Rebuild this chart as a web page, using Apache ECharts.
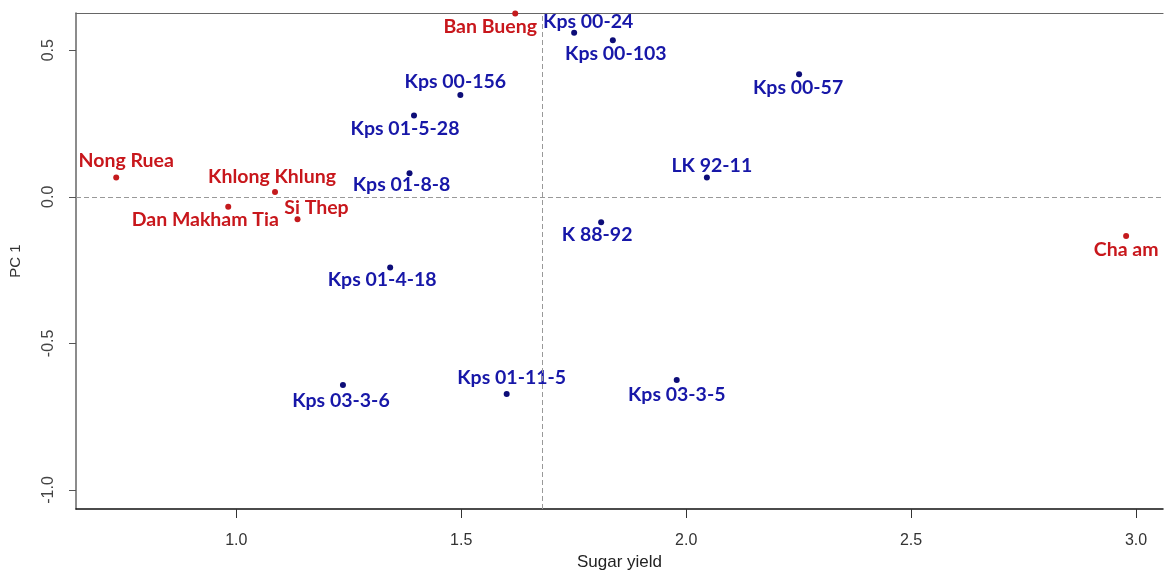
<!DOCTYPE html>
<html>
<head>
<meta charset="utf-8">
<script src="https://cdn.jsdelivr.net/npm/echarts@6/dist/echarts.min.js"></script>
<style>
  html, body { margin: 0; padding: 0; background: #fff; }
  #chart { width: 1165px; height: 575px; }
</style>
</head>
<body>
<div id="chart"></div>
<script>
// Check varieties (red) and candidate clones (blue): sugar yield vs. PC 1
const varietyNames = ['Nong Ruea', 'Khlong Khlung', 'Dan Makham Tia', 'Si Thep', 'Ban Bueng', 'Cha am'];
const varietyYield = [0.733, 1.086, 0.982, 1.136, 1.62, 2.978];
const varietyPC1   = [0.066, 0.016, -0.034, -0.077, 0.625, -0.134];

const cloneNames = ['Kps 00-24', 'Kps 00-103', 'Kps 00-57', 'Kps 00-156', 'Kps 01-5-28', 'Kps 01-8-8',
                    'LK 92-11', 'K 88-92', 'Kps 01-4-18', 'Kps 03-3-6', 'Kps 01-11-5', 'Kps 03-3-5'];
const cloneYield = [1.751, 1.837, 2.251, 1.498, 1.395, 1.385, 2.046, 1.811, 1.342, 1.237, 1.601, 1.979];
const clonePC1   = [0.560, 0.534, 0.418, 0.347, 0.277, 0.080, 0.066, -0.087, -0.241, -0.642, -0.673, -0.625];

const xTicks = [1.0, 1.5, 2.0, 2.5, 3.0];
const yTicks = [-1.0, -0.5, 0.0, 0.5];
const yieldMean = 1.679;
const pc1Ref = 0.0;

// label placement relative to each point (pixels)
const varietyLabelOffsets = [[10, -17], [-3, -15], [-23, 13], [19, -12], [-25, 13], [0, 14]];
const cloneLabelOffsets = [[14, -11], [3, 13], [-1, 13], [-5, -13], [-9, 13], [-8, 11],
                           [5, -12], [-4, 12], [-8, 12], [-2, 16], [5, -16], [0, 15]];

const RED = '#c8171c';
const BLUE = '#1717a8';

function buildData(names, xs, ys, offsets) {
  return names.map((n, i) => ({
    name: n,
    value: [xs[i], ys[i]],
    label: { offset: offsets[i] }
  }));
}

const labelBase = {
  show: true,
  position: 'inside',
  align: 'center',
  verticalAlign: 'middle',
  fontFamily: 'Lato',
  fontWeight: 'bold',
  fontSize: 19.5,
  textBorderWidth: 0,
  opacity: 1,
  formatter: p => p.name
};

const chart = echarts.init(document.getElementById('chart'), null, { renderer: 'canvas' });
chart.setOption({
  animation: false,
  backgroundColor: '#ffffff',
  grid: { left: 76, right: 2, top: 13, bottom: 66, containLabel: false, outerBoundsMode: 'none' },
  xAxis: [{
    type: 'value',
    min: 0.6436,
    max: 3.06,
    name: 'Sugar yield',
    nameLocation: 'middle',
    nameGap: 42,
    nameTextStyle: { fontFamily: 'Liberation Sans', fontSize: 17, color: '#222' },
    axisLine: { show: true, onZero: false, lineStyle: { color: '#111', width: 1.5 } },
    axisTick: { show: true, length: 9, customValues: xTicks, lineStyle: { color: '#333' } },
    axisLabel: {
      customValues: xTicks, margin: 24, color: '#333',
      fontFamily: 'Liberation Sans', fontSize: 16,
      formatter: v => v.toFixed(1)
    },
    splitLine: { show: false }
  }, {
    type: 'value',
    position: 'top',
    min: 0.6436,
    max: 3.06,
    axisLine: { show: true, onZero: false, lineStyle: { color: '#666', width: 1.2 } },
    axisTick: { show: false },
    axisLabel: { show: false },
    splitLine: { show: false }
  }],
  yAxis: {
    type: 'value',
    min: -1.065,
    max: 0.627,
    name: 'PC 1',
    nameLocation: 'middle',
    nameGap: 53,
    nameTextStyle: { fontFamily: 'Liberation Sans', fontSize: 15, color: '#333' },
    axisLine: { show: true, onZero: false, lineStyle: { color: '#666', width: 1.5 } },
    axisTick: { show: true, length: 7, customValues: yTicks, lineStyle: { color: '#555' } },
    axisLabel: {
      customValues: yTicks, rotate: 90, margin: 19, color: '#444',
      fontFamily: 'Liberation Sans', fontSize: 16,
      formatter: v => v.toFixed(1)
    },
    splitLine: { show: false }
  },
  series: [{
    name: 'Reference lines',
    type: 'scatter',
    data: [],
    silent: true,
    markLine: {
      silent: true,
      symbol: ['none', 'none'],
      label: { show: false },
      lineStyle: { color: '#999', type: [5, 3], width: 1, opacity: 1 },
      data: [{ yAxis: pc1Ref }, { xAxis: yieldMean }]
    }
  }, {
    name: 'Varieties',
    type: 'scatter',
    symbolSize: 6,
    itemStyle: { color: '#c41a1d', opacity: 1 },
    label: Object.assign({}, labelBase, { color: RED }),
    data: buildData(varietyNames, varietyYield, varietyPC1, varietyLabelOffsets),
    z: 3
  }, {
    name: 'Clones',
    type: 'scatter',
    symbolSize: 6,
    itemStyle: { color: '#0d0d78', opacity: 1 },
    label: Object.assign({}, labelBase, { color: BLUE }),
    data: buildData(cloneNames, cloneYield, clonePC1, cloneLabelOffsets),
    z: 3
  }]
});
</script>
</body>
</html>
